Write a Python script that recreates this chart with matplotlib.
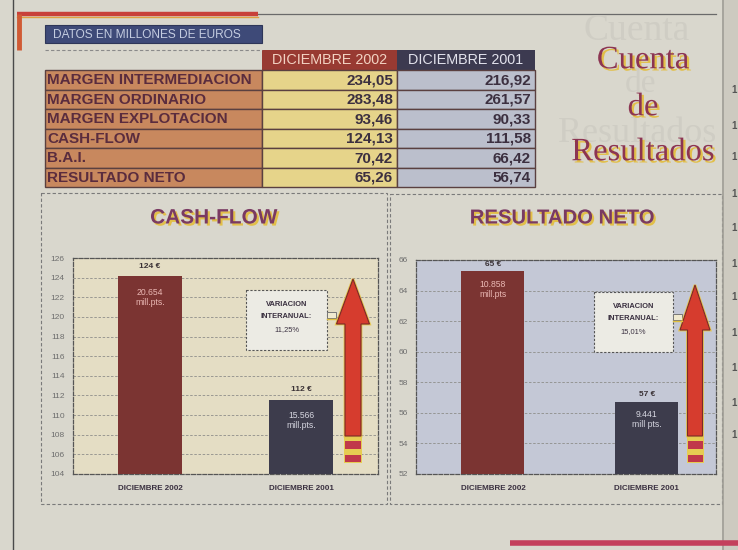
import matplotlib
matplotlib.use("Agg")
import matplotlib.pyplot as plt
from matplotlib.patches import Rectangle, Polygon
import matplotlib.patheffects as pe

# ---------------- data ----------------
table_title = "DATOS EN MILLONES DE EUROS"
col_headers = ["DICIEMBRE 2002", "DICIEMBRE 2001"]
row_labels = ["MARGEN INTERMEDIACION", "MARGEN ORDINARIO", "MARGEN EXPLOTACION",
              "CASH-FLOW", "B.A.I.", "RESULTADO NETO"]
values_2002 = [234.05, 283.48, 93.46, 124.13, 70.42, 65.26]
values_2001 = [216.92, 261.57, 90.33, 111.58, 66.42, 56.74]

categories = ["DICIEMBRE 2002", "DICIEMBRE 2001"]
cash_flow = [124.13, 111.58]
cash_flow_labels = ["124 €", "112 €"]
cash_flow_pts = ["20.654\nmill.pts.", "15.566\nmill.pts."]
cash_flow_var = "11,25%"
cash_ticks = [104, 106, 108, 110, 112, 114, 116, 118, 120, 122, 124, 126]

neto = [65.26, 56.74]
neto_labels = ["65 €", "57 €"]
neto_pts = ["10.858\nmill.pts", "9.441\nmill pts."]
neto_var = "15,01%"
neto_ticks = [52, 54, 56, 58, 60, 62, 64, 66]

# ---------------- setup ----------------
W, H, DPI = 738, 550, 100
SANS = ["Liberation Sans", "DejaVu Sans"]
NARROW = ["Liberation Sans Narrow", "Liberation Sans", "DejaVu Sans"]
SERIF = ["Liberation Serif", "DejaVu Serif"]
PAPER = "#d9d7cd"

fig = plt.figure(figsize=(W / DPI, H / DPI), dpi=DPI, facecolor=PAPER)

def px_rect(x0, y0, x1, y1):
    return [x0 / W, 1 - y1 / H, (x1 - x0) / W, (y1 - y0) / H]

bg = fig.add_axes([0, 0, 1, 1], zorder=0)
bg.set_xlim(0, W); bg.set_ylim(H, 0); bg.axis("off")
bg.set_facecolor(PAPER)

def shadow_fx(color="#e2bf48", d=1.3):
    return [pe.SimplePatchShadow(offset=(d, -d), shadow_rgbFace=color, alpha=1.0),
            pe.Normal()]

# page frame
bg.plot([13, 13], [0, 550], color="#4a4a4a", lw=1.0)
bg.plot([17, 258], [14, 14], color="#c8403a", lw=3.2, solid_capstyle="butt")
bg.plot([17, 258], [17, 17], color="#e0a040", lw=1.0)
bg.plot([19, 19], [14, 50], color="#d05a34", lw=3.5, solid_capstyle="butt")
bg.plot([258, 716], [14, 14], color="#6a6a6a", lw=0.9)
# right margin fold + cut-off text
bg.add_patch(Rectangle((722, 0), 16, 550, fc="#cdcac0", ec="none"))
bg.plot([723, 723], [0, 550], color="#a09e96", lw=1.2)
for yy in [90, 126, 157, 194, 228, 264, 297, 333, 368, 403, 435]:
    bg.text(731, yy, "1", fontsize=7, fontweight="bold", color="#555",
            family=SANS, va="center")
bg.plot([510, 738], [543, 543], color="#c4405c", lw=4, solid_capstyle="butt")

# ghost text (show-through from reverse page)
ghost = "#cfcdc4"
bg.text(637, 31, "Cuenta", fontsize=27, family=SERIF, color=ghost, ha="center", va="center")
bg.text(640, 84, "de", fontsize=24, family=SERIF, color=ghost, ha="center", va="center")
bg.text(637, 134, "Resultados", fontsize=26, family=SERIF, color=ghost, ha="center", va="center")

# "Cuenta de Resultados"
for yy, s in [(60, "Cuenta"), (107, "de"), (152, "Resultados")]:
    bg.text(643, yy, s, color="#8c3552", fontsize=23.5, family=SERIF,
            ha="center", va="center", path_effects=shadow_fx(d=1.6))

# table title
bg.add_patch(Rectangle((45, 25), 217, 18, fc="#3e4a78", ec="#2e3658", lw=0.8))
bg.text(53, 34.5, table_title, fontsize=8.6, family=SANS, color="#c4cce0", va="center")

# table
xl0, xl1, xc1, xc2 = 45, 262, 397, 535
hy0, hy1 = 50, 70
rh = (187 - 70) / len(row_labels)
bg.plot([45, 262], [50, 50], color="#8a8a8a", lw=0.8, ls=(0, (3, 2)))
bg.add_patch(Rectangle((xl1, hy0), xc1 - xl1, hy1 - hy0, fc="#983a32", ec="none"))
bg.add_patch(Rectangle((xc1, hy0), xc2 - xc1, hy1 - hy0, fc="#3c3a50", ec="none"))
bg.text((xl1 + xc1) / 2, 60.5, col_headers[0], fontsize=10.4, family=SANS,
        color="#f2d2c2", ha="center", va="center")
bg.text((xc1 + xc2) / 2, 60.5, col_headers[1], fontsize=10.4, family=SANS,
        color="#e2e2ec", ha="center", va="center")
for i, (lab, a, b) in enumerate(zip(row_labels, values_2002, values_2001)):
    y0 = hy1 + i * rh
    bg.add_patch(Rectangle((xl0, y0), xl1 - xl0, rh, fc="#c8885e", ec="#5a4040", lw=1.0))
    bg.add_patch(Rectangle((xl1, y0), xc1 - xl1, rh, fc="#e6d48a", ec="#5a4040", lw=1.0))
    bg.add_patch(Rectangle((xc1, y0), xc2 - xc1, rh, fc="#bbbfcc", ec="#5a4040", lw=1.0))
    yc = y0 + rh / 2 + 0.5
    bg.text(xl0 + 2, yc, lab, fontsize=11, fontweight="bold", family=SANS,
            color="#5a2c3e", va="center")
    bg.text(xc1 - 4, yc, f"{a:.2f}".replace(".", ","), fontsize=11, fontweight="bold",
            family=SANS, color="#3c3040", ha="right", va="center")
    bg.text(xc2 - 4, yc, f"{b:.2f}".replace(".", ","), fontsize=11, fontweight="bold",
            family=SANS, color="#3c3040", ha="right", va="center")

# panels
for (x0, y0, x1, y1) in [(41, 193, 387, 504), (390, 194, 722, 504)]:
    bg.add_patch(Rectangle((x0, y0), x1 - x0, y1 - y0, fc="none", ec="#7a7a7a",
                           lw=0.8, ls=(0, (3, 2))))

bg.text(214, 218, "CASH-FLOW", color="#7a3a62", fontsize=15, fontweight="bold",
        family=SANS, ha="center", va="center", path_effects=shadow_fx(d=1.5))
bg.text(562, 218, "RESULTADO NETO", color="#7a3a62", fontsize=14.6, fontweight="bold",
        family=SANS, ha="center", va="center", path_effects=shadow_fx(d=1.5))

# ---------------- bar charts ----------------
def chart(rect, vals, ticks, xlim, width, face, top_labels, pts, pts_colors,
          off_top, off_in):
    ax = fig.add_axes(px_rect(*rect), zorder=2)
    ax.set_facecolor(face)
    xs = list(range(len(categories)))
    ax.bar(xs, vals, width=width, color=["#7b3432", "#3d3c4c"], zorder=3)
    ax.set_ylim(ticks[0], ticks[-1])
    ax.set_xlim(*xlim)
    ax.set_yticks(ticks)
    ax.set_yticklabels([str(t) for t in ticks], fontsize=6, color="#6e6e6e", family=SANS)
    ax.set_xticks(xs)
    ax.set_xticklabels(categories, fontsize=5.8, color="#3a3040", family=NARROW,
                       fontweight="bold")
    ax.tick_params(length=0, pad=6)
    ax.tick_params(axis="x", pad=8)
    ax.grid(axis="y", color="#8e8e8a", lw=0.6, ls=(0, (3, 2)), zorder=1)
    for s in ax.spines.values():
        s.set_color("#555")
        s.set_linewidth(0.9)
        s.set_linestyle((0, (3, 1.5)))
    for x, v, lab, p, c in zip(xs, vals, top_labels, pts, pts_colors):
        ax.annotate(lab, (x, v), xytext=(0, off_top), textcoords="offset points",
                    ha="center", va="center", fontsize=6, fontweight="bold",
                    color="#3a3236", family=SANS, zorder=5)
        ax.annotate(p, (x, v), xytext=(0, off_in), textcoords="offset points",
                    ha="center", va="center", fontsize=6.2, color=c,
                    family=SANS, linespacing=1.15, zorder=5)
    return ax

chart((73, 258, 378, 474), cash_flow, cash_ticks, (-0.51, 1.51), 0.42, "#e4ddc4",
      cash_flow_labels, cash_flow_pts, ["#eab8b4", "#d6d6e0"], 7, -15)
chart((416, 260, 716, 474), neto, neto_ticks, (-0.5, 1.45), 0.41, "#c4c8d6",
      neto_labels, neto_pts, ["#eab8b4", "#d6d6e0"], 5, -13)

# ---------------- overlay: notes and arrows ----------------
top = fig.add_axes([0, 0, 1, 1], zorder=5)
top.set_xlim(0, W); top.set_ylim(H, 0); top.axis("off")
top.patch.set_alpha(0)

def note(x0, y0, w, h, pct):
    top.add_patch(Rectangle((x0, y0), w, h, fc="#ecebe4", ec="#555", lw=0.8,
                            ls=(0, (2, 1.5))))
    cx = x0 + w / 2
    top.text(cx, y0 + 15, "VARIACION", fontsize=5.4, fontweight="bold",
             color="#3a3040", family=SANS, ha="center", va="center")
    top.text(cx, y0 + 26, "INTERANUAL:", fontsize=5.4, fontweight="bold",
             color="#3a3040", family=SANS, ha="center", va="center")
    top.text(cx, y0 + 40, pct, fontsize=5.4, color="#3a3040", family=SANS,
             ha="center", va="center")
    top.add_patch(Rectangle((x0 + w, y0 + 22), 9, 6, fc="#f0ead0", ec="#777", lw=0.7))
    top.plot([x0 + w, x0 + w + 9], [y0 + 29, y0 + 29], color="#e0c040", lw=1)

def arrow(cx, tip, head_bot, shaft_bot, hw=33, sw=16):
    pts = [(cx, tip), (cx + hw / 2, head_bot), (cx + sw / 2, head_bot),
           (cx + sw / 2, shaft_bot), (cx - sw / 2, shaft_bot),
           (cx - sw / 2, head_bot), (cx - hw / 2, head_bot)]
    top.add_patch(Rectangle((cx - sw / 2 - 1, shaft_bot - 2), sw + 2, 29,
                            fc="#e6cc52", ec="none"))
    poly = Polygon(pts, closed=True, fc="#d63c2e", ec="#7a2a28", lw=0.8)
    poly.set_path_effects([pe.Stroke(linewidth=2, foreground="#e4c650"), pe.Normal()])
    top.add_patch(poly)
    top.add_patch(Rectangle((cx - sw / 2, shaft_bot + 5), sw, 8, fc="#c0384a", ec="none"))
    top.add_patch(Rectangle((cx - sw / 2, shaft_bot + 19), sw, 7, fc="#c0384a", ec="none"))

note(246, 290, 81, 60, cash_flow_var)
note(594, 292, 79, 60, neto_var)
arrow(353, 279, 324, 436)
arrow(695, 285, 330, 436, hw=30, sw=15)

fig.savefig("out.png", dpi=DPI, facecolor=PAPER)
